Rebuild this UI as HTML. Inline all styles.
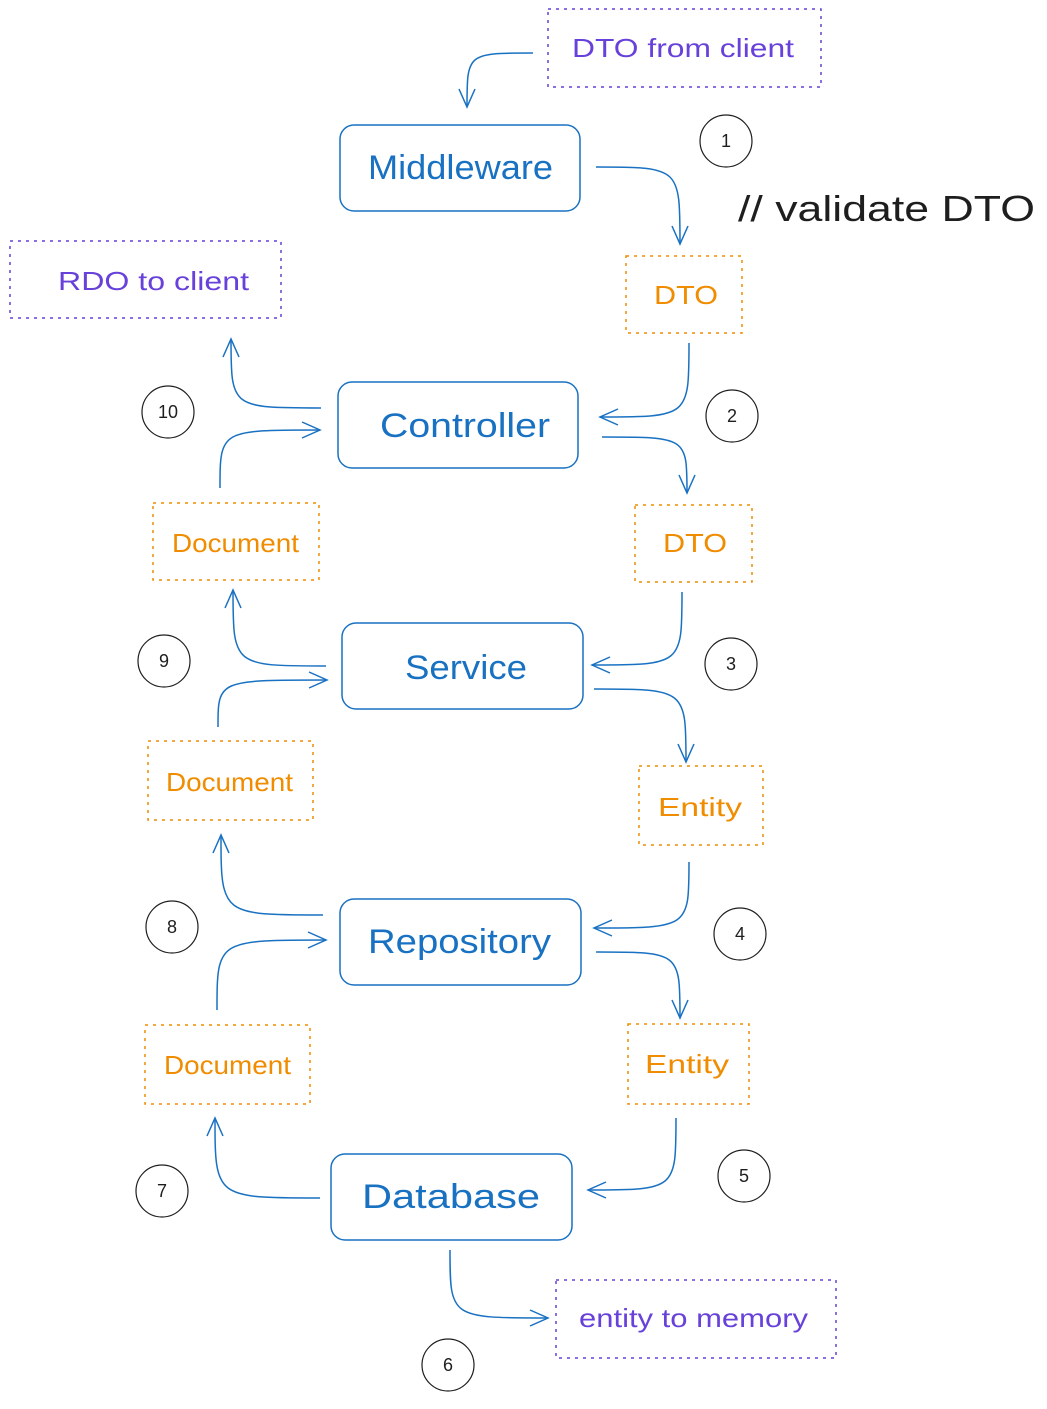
<!DOCTYPE html>
<html><head><meta charset="utf-8"><style>
html,body{margin:0;padding:0;background:#fff;}
svg text{font-family:"Liberation Sans",sans-serif;}
</style></head><body>
<svg width="1047" height="1404" viewBox="0 0 1047 1404" xmlns="http://www.w3.org/2000/svg">
<defs>
<marker id="a" markerUnits="userSpaceOnUse" markerWidth="30" markerHeight="30" refX="20" refY="10" orient="auto" viewBox="0 0 30 20">
<path d="M2 2 L20 10 L2 18" fill="none" stroke="#1971c2" stroke-width="1.5"/>
</marker>
</defs>
<g fill="none" stroke="#1971c2" stroke-width="1.5">
<rect x="340" y="125" width="240" height="86" rx="14"/>
<rect x="338" y="382" width="240" height="86" rx="14"/>
<rect x="342" y="623" width="241" height="86" rx="14"/>
<rect x="340" y="899" width="241" height="86" rx="14"/>
<rect x="331" y="1154" width="241" height="86" rx="14"/>
</g>
<g fill="#1971c2" font-size="34" lengthAdjust="spacingAndGlyphs">
<text x="368" y="179" textLength="185" lengthAdjust="spacingAndGlyphs">Middleware</text>
<text x="380" y="437" textLength="170" lengthAdjust="spacingAndGlyphs">Controller</text>
<text x="405" y="679" textLength="122" lengthAdjust="spacingAndGlyphs">Service</text>
<text x="368" y="953" textLength="183" lengthAdjust="spacingAndGlyphs">Repository</text>
<text x="362" y="1208" textLength="178" lengthAdjust="spacingAndGlyphs">Database</text>
</g>
<g fill="none" stroke-width="1.5" stroke-dasharray="3 5">
<rect x="548" y="9" width="273" height="78" stroke="#6741d9"/>
<rect x="10" y="241" width="271" height="77" stroke="#6741d9"/>
<rect x="556" y="1280" width="280" height="78" stroke="#6741d9"/>
<rect x="626" y="256" width="116" height="77" stroke="#f08c00"/>
<rect x="635" y="505" width="117" height="77" stroke="#f08c00"/>
<rect x="639" y="766" width="124" height="79" stroke="#f08c00"/>
<rect x="628" y="1024" width="121" height="80" stroke="#f08c00"/>
<rect x="153" y="503" width="166" height="77" stroke="#f08c00"/>
<rect x="148" y="741" width="165" height="79" stroke="#f08c00"/>
<rect x="145" y="1025" width="165" height="79" stroke="#f08c00"/>
</g>
<g fill="#6741d9" font-size="26">
<text x="572" y="57" textLength="222" lengthAdjust="spacingAndGlyphs">DTO from client</text>
<text x="58" y="290" textLength="191" lengthAdjust="spacingAndGlyphs">RDO to client</text>
<text x="579" y="1327" textLength="229" lengthAdjust="spacingAndGlyphs">entity to memory</text>
</g>
<g fill="#f08c00" font-size="26">
<text x="654" y="304" textLength="64" lengthAdjust="spacingAndGlyphs">DTO</text>
<text x="663" y="552" textLength="64" lengthAdjust="spacingAndGlyphs">DTO</text>
<text x="658" y="816" textLength="84" lengthAdjust="spacingAndGlyphs">Entity</text>
<text x="645" y="1073" textLength="84" lengthAdjust="spacingAndGlyphs">Entity</text>
<text x="172" y="552" textLength="127" lengthAdjust="spacingAndGlyphs">Document</text>
<text x="166" y="791" textLength="127" lengthAdjust="spacingAndGlyphs">Document</text>
<text x="164" y="1074" textLength="127" lengthAdjust="spacingAndGlyphs">Document</text>
</g>
<g fill="none" stroke="#1e1e1e" stroke-width="1.2">
<circle cx="726" cy="141" r="26"/><circle cx="732" cy="416" r="26"/>
<circle cx="731" cy="664" r="26"/><circle cx="740" cy="934" r="26"/>
<circle cx="744" cy="1176" r="26"/><circle cx="448" cy="1365" r="26"/>
<circle cx="162" cy="1191" r="26"/><circle cx="172" cy="927" r="26"/>
<circle cx="164" cy="661" r="26"/><circle cx="168" cy="412" r="26"/>
</g>
<g fill="#1e1e1e" font-size="18" text-anchor="middle">
<text x="726" y="147">1</text><text x="732" y="422">2</text>
<text x="731" y="670">3</text><text x="740" y="940">4</text>
<text x="744" y="1182">5</text><text x="448" y="1371">6</text>
<text x="162" y="1197">7</text><text x="172" y="933">8</text>
<text x="164" y="667">9</text><text x="168" y="418">10</text>
</g>
<text x="738" y="221" font-size="36" fill="#1e1e1e" textLength="297" lengthAdjust="spacingAndGlyphs">// validate DTO</text>
<g fill="none" stroke="#1971c2" stroke-width="1.5" marker-end="url(#a)">
<path d="M533 53 C467 53,467 53,467 107"/>
<path d="M596 167 C680 167,680 167,680 244"/>
<path d="M689 343 C689 417,689 417,600 417"/>
<path d="M602 437 C687 437,687 437,687 493"/>
<path d="M682 592 C682 665,682 665,592 665"/>
<path d="M594 689 C686 689,686 689,686 762"/>
<path d="M689 862 C689 928,689 928,594 928"/>
<path d="M596 952 C680 952,680 952,680 1018"/>
<path d="M676 1118 C676 1190,676 1190,588 1190"/>
<path d="M450 1250 C450 1318,450 1318,548 1318"/>
<path d="M320 1198 C215 1198,215 1198,215 1118"/>
<path d="M217 1010 C217 940,217 940,326 940"/>
<path d="M323 915 C221 915,221 915,221 835"/>
<path d="M218 727 C218 680,218 680,327 680"/>
<path d="M326 666 C233 666,233 666,233 590"/>
<path d="M220 488 C220 430,220 430,320 430"/>
<path d="M321 408 C231 408,231 408,231 339"/>
</g>
</svg>
</body></html>
